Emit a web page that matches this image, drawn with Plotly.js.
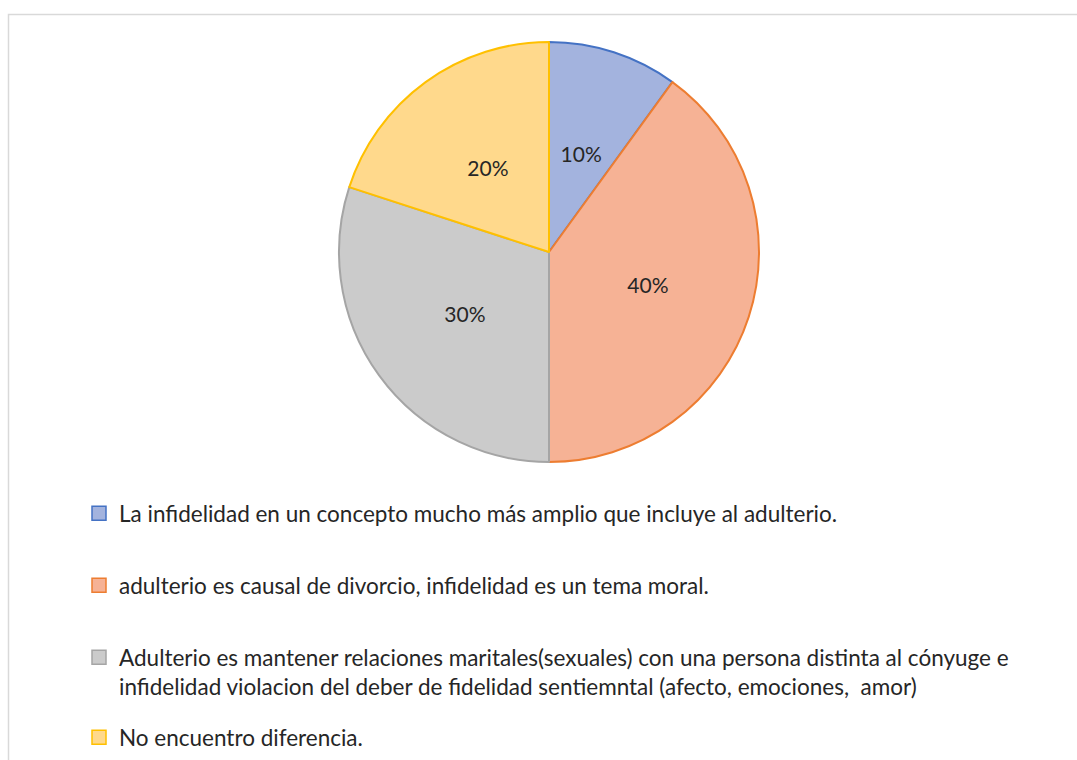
<!DOCTYPE html>
<html>
<head>
<meta charset="utf-8">
<script src="https://cdn.plot.ly/plotly-3.0.1.min.js"></script>
<style>
  html, body { margin: 0; padding: 0; background: #ffffff; }
  #chart { width: 1077px; height: 760px; }
</style>
</head>
<body>
<div id="chart"></div>
<script>
// ---- data ----
const categories = [
  "La infidelidad en un concepto mucho más amplio que incluye al adulterio.",
  "adulterio es causal de divorcio, infidelidad es un tema moral.",
  "Adulterio es mantener relaciones maritales(sexuales) con una persona distinta al cónyuge e<br>infidelidad violacion del deber de fidelidad sentiemntal (afecto, emociones,&nbsp; amor)",
  "No encuentro diferencia."
];
const values = [10, 40, 30, 20];

// ---- styles ----
const fillColors = ["#a3b3de", "#f6b295", "#cbcbcb", "#ffd98c"];
const lineColors = ["#4472c4", "#ed7d31", "#a5a5a5", "#ffc000"];
const legendTops = [492, 564, 636, 716];
const W = 1077, H = 760;
const CX = 549, CY = 252, R = 210;
const FONT = "Lato, 'Open Sans', sans-serif";
const TEXTCOL = "#262626";

// label ring: labels sit at about half the radius, like the reference
const LABEL_HOLE = 0.55;
const LABEL_R = (0.495 * R) / ((1 + LABEL_HOLE) / 2);

function domainFor(r) {
  return { x: [(CX - r) / W, (CX + r) / W], y: [1 - (CY + r) / H, 1 - (CY - r) / H] };
}

const traces = [{
  type: "pie",
  labels: categories,
  values: values,
  sort: false,
  direction: "clockwise",
  rotation: 0,
  showlegend: false,
  textinfo: "none",
  marker: { colors: fillColors, line: { color: lineColors, width: 2 } },
  domain: domainFor(R),
  hoverinfo: "label+percent"
}, {
  type: "pie",
  labels: categories,
  values: values,
  sort: false,
  direction: "clockwise",
  rotation: 0,
  hole: LABEL_HOLE,
  showlegend: false,
  textinfo: "percent",
  texttemplate: "%{percent:.0%}",
  textposition: "inside",
  insidetextorientation: "horizontal",
  textfont: { family: FONT, size: 21, color: TEXTCOL },
  marker: { colors: categories.map(() => "rgba(0,0,0,0)"), line: { width: 0 } },
  domain: domainFor(LABEL_R),
  hoverinfo: "skip"
}];

const layout = {
  width: W, height: H,
  margin: { l: 0, r: 0, t: 0, b: 0 },
  paper_bgcolor: "#ffffff",
  plot_bgcolor: "rgba(0,0,0,0)",
  xaxis: { visible: false, fixedrange: true },
  yaxis: { visible: false, fixedrange: true },
  shapes: [{
    type: "rect", xref: "paper", yref: "paper",
    x0: 8.5 / W, x1: 1.02, y0: -0.02, y1: 1 - 14.5 / H,
    line: { color: "#d9d9d9", width: 1.5 }, fillcolor: "rgba(0,0,0,0)", layer: "below"
  }]
};

// one legend per category, each entry placed where the reference shows it
categories.forEach((c, i) => {
  const key = i === 0 ? "legend" : "legend" + (i + 1);
  traces.push({
    type: "scatter", mode: "markers", x: [null], y: [null],
    name: c, legend: key, showlegend: true, hoverinfo: "skip",
    marker: { symbol: "square", size: 14, color: fillColors[i], line: { color: lineColors[i], width: 1.5 } }
  });
  layout[key] = {
    x: 79 / W, xanchor: "left",
    y: 1 - legendTops[i] / H, yanchor: "top",
    valign: "top",
    bgcolor: "rgba(0,0,0,0)",
    font: { family: FONT, size: 22.5, color: TEXTCOL }
  };
});

Plotly.newPlot("chart", traces, layout, { displayModeBar: false, staticPlot: true });
</script>
</body>
</html>
